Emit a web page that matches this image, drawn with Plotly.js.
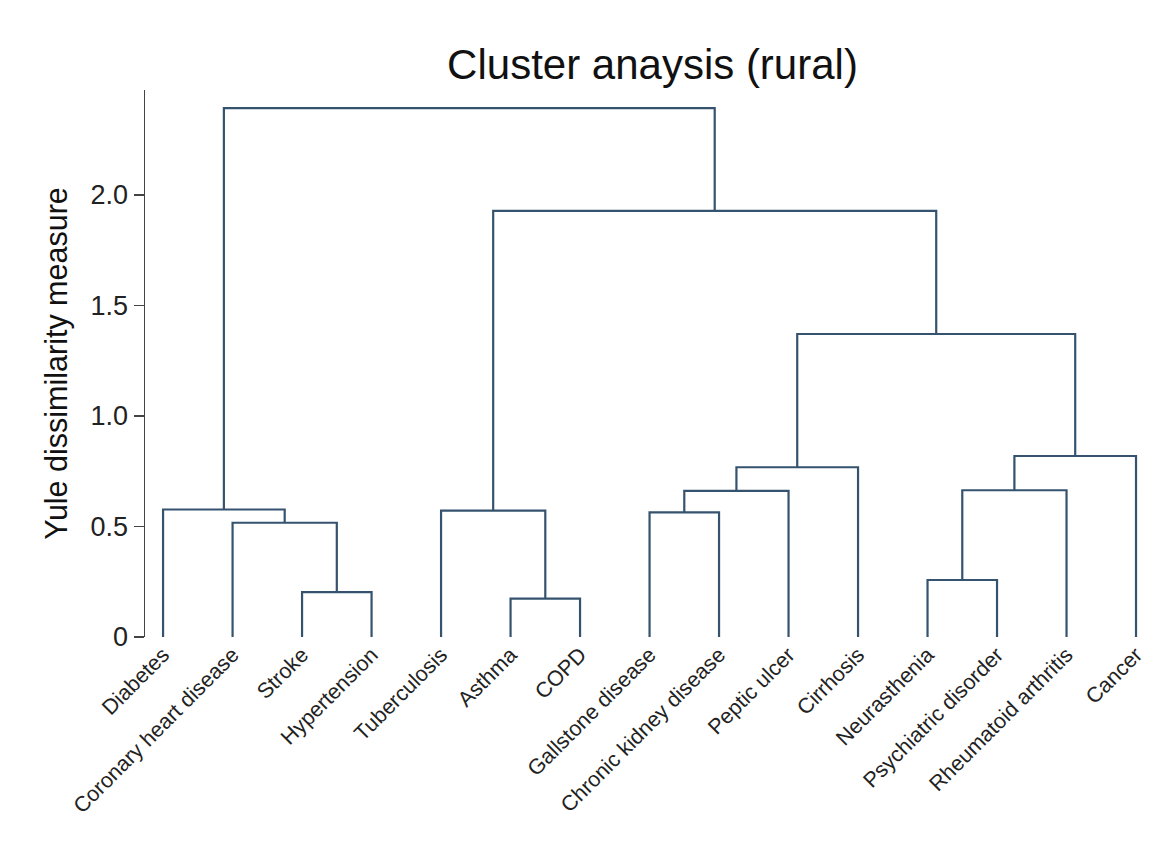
<!DOCTYPE html>
<html>
<head>
<meta charset="utf-8">
<script src="https://cdn.plot.ly/plotly-3.0.1.min.js"></script>
<style>html,body{margin:0;padding:0;background:#fff;}#chart{width:1173px;height:859px;}</style>
</head>
<body>
<div id="chart"></div>
<script>
// Leaves in dendrogram order
const leaves = ["Diabetes","Coronary heart disease","Stroke","Hypertension","Tuberculosis","Asthma","COPD",
  "Gallstone disease","Chronic kidney disease","Peptic ulcer","Cirrhosis","Neurasthenia",
  "Psychiatric disorder","Rheumatoid arthritis","Cancer"];
// Merge steps: node ids 0..14 are leaves, each merge creates node 15, 16, ...
const mergeLeft   = [2, 1, 0, 5, 4, 7, 20, 21, 11, 23, 24, 22, 19, 17];
const mergeRight  = [3, 15, 16, 6, 18, 8, 9, 10, 12, 13, 14, 25, 26, 27];
const mergeHeight = [0.203, 0.517, 0.577, 0.174, 0.572, 0.564, 0.661, 0.768, 0.258, 0.664, 0.819, 1.371, 1.928, 2.393];
const yTicks = [0, 0.5, 1.0, 1.5, 2.0];
const yTickText = ["0", "0.5", "1.0", "1.5", "2.0"];

const nodeX = [], nodeH = [];
leaves.forEach((l, i) => { nodeX.push(i + 1); nodeH.push(0); });
const xs = [], ys = [];
for (let k = 0; k < mergeLeft.length; k++) {
  const a = mergeLeft[k], b = mergeRight[k], h = mergeHeight[k];
  xs.push(nodeX[a], nodeX[a], nodeX[b], nodeX[b], null);
  ys.push(nodeH[a], h, h, nodeH[b], null);
  nodeX.push((nodeX[a] + nodeX[b]) / 2);
  nodeH.push(h);
}

const trace = {
  x: xs, y: ys, type: 'scatter', mode: 'lines',
  line: {color: '#35536f', width: 2.2},
  hoverinfo: 'skip', showlegend: false, connectgaps: false
};

const FONT = 'Liberation Sans, Arial, sans-serif';
const layout = {
  width: 1173, height: 859,
  paper_bgcolor: '#fff', plot_bgcolor: '#fff',
  margin: {l: 145, r: 13, t: 90, b: 222},
  title: {text: 'Cluster anaysis (rural)', x: 0.5, xref: 'paper', xanchor: 'center',
          y: 0.925, yref: 'container', yanchor: 'middle',
          font: {family: FONT, size: 42, color: '#111'}},
  xaxis: {
    range: [0.74, 15.345], showgrid: false, zeroline: false, showline: false,
    automargin: false,
    tickmode: 'array', tickvals: leaves.map((l, i) => i + 1), ticktext: leaves,
    tickangle: -45, ticks: '', ticklen: 0,
    tickfont: {family: FONT, size: 21.5, color: '#222'}
  },
  yaxis: {
    range: [0, 2.475], showgrid: false, zeroline: false, automargin: false,
    showline: true, linecolor: '#444', linewidth: 1.5,
    tickmode: 'array', tickvals: yTicks, ticktext: yTickText,
    ticks: 'outside', ticklen: 10, tickcolor: '#444', tickwidth: 1.5,
    tickfont: {family: FONT, size: 27, color: '#222'},
    title: {text: 'Yule dissimilarity measure', standoff: 14,
            font: {family: FONT, size: 30.5, color: '#111'}}
  }
};

Plotly.newPlot('chart', [trace], layout, {displayModeBar: false, staticPlot: true});
</script>
</body>
</html>
